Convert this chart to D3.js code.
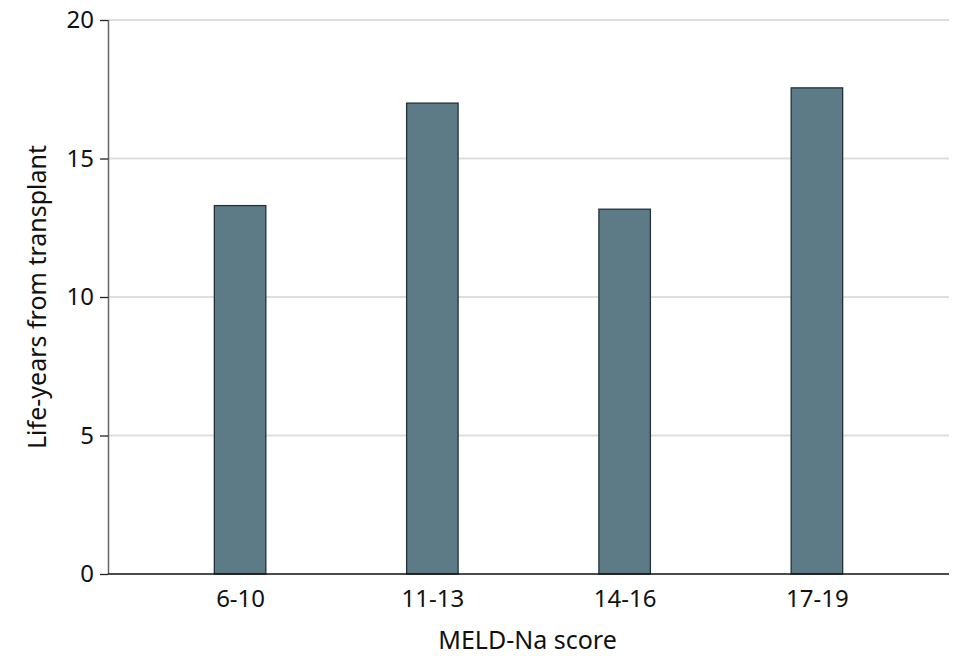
<!DOCTYPE html>
<html>
<head>
<meta charset="utf-8">
<script src="https://cdn.jsdelivr.net/npm/d3@7"></script>
<style>
  html, body { margin: 0; padding: 0; background: #fff; }
  svg { display: block; }
  text { font-family: "Noto Sans", "Open Sans", sans-serif; fill: #111; }
</style>
</head>
<body>
<script>
const categories = ["6-10", "11-13", "14-16", "17-19"];
const values = [13.3, 17.0, 13.17, 17.55];
const yTicks = [0, 5, 10, 15, 20];
const xTitle = "MELD-Na score";
const yTitle = "Life-years from transplant";

const W = 958, H = 656;
const m = { left: 108, right: 9, top: 20, bottom: 82 };
const pw = W - m.left - m.right, ph = H - m.top - m.bottom;

const svg = d3.select("body").append("svg").attr("width", W).attr("height", H);
const g = svg.append("g").attr("transform", `translate(${m.left},${m.top})`);

const x = d3.scalePoint().domain(categories).range([0, pw]).padding(0.687);
const y = d3.scaleLinear().domain([0, 20]).range([ph, 0]);
const bw = 51.5;

// gridlines
g.selectAll("line.grid").data(yTicks.filter(t => t > 0)).join("line")
  .attr("class", "grid")
  .attr("x1", 0).attr("x2", pw)
  .attr("y1", d => y(d)).attr("y2", d => y(d))
  .attr("stroke", "#dedede").attr("stroke-width", 2);

// bars
g.selectAll("rect.bar").data(values).join("rect")
  .attr("class", "bar")
  .attr("x", (d, i) => x(categories[i]) - bw / 2)
  .attr("width", bw)
  .attr("y", d => y(d))
  .attr("height", d => y(0) - y(d))
  .attr("fill", "#5c7b86")
  .attr("stroke", "#233238").attr("stroke-width", 1.3);

// y axis
const ya = g.append("g").call(d3.axisLeft(y).tickValues(yTicks).tickSize(8).tickPadding(6).tickFormat(d3.format("d")));
ya.select(".domain").attr("stroke", "#666").attr("stroke-width", 1.5).attr("d", `M0.5,0V${ph}`);
ya.selectAll(".tick line").attr("stroke", "#222").attr("stroke-width", 1.3);
ya.selectAll(".tick text").attr("font-size", 24).attr("fill", "#111")
  .attr("font-family", "Noto Sans, Open Sans, sans-serif");

// x axis
const xa = g.append("g").attr("transform", `translate(0,${ph})`)
  .call(d3.axisBottom(x).tickSize(0).tickPadding(16));
xa.select(".domain").attr("stroke", "#111").attr("stroke-width", 1.6).attr("d", `M0,0H${pw}`);
xa.selectAll(".tick text").attr("font-size", 24).attr("fill", "#111")
  .attr("font-family", "Noto Sans, Open Sans, sans-serif");

// titles
svg.append("text").attr("x", m.left + pw / 2 - 1).attr("y", 649)
  .attr("text-anchor", "middle").attr("font-size", 25).text(xTitle);
svg.append("text").attr("transform", `translate(46,${m.top + ph / 2}) rotate(-90)`)
  .attr("text-anchor", "middle").attr("font-size", 25).text(yTitle);
</script>
</body>
</html>
